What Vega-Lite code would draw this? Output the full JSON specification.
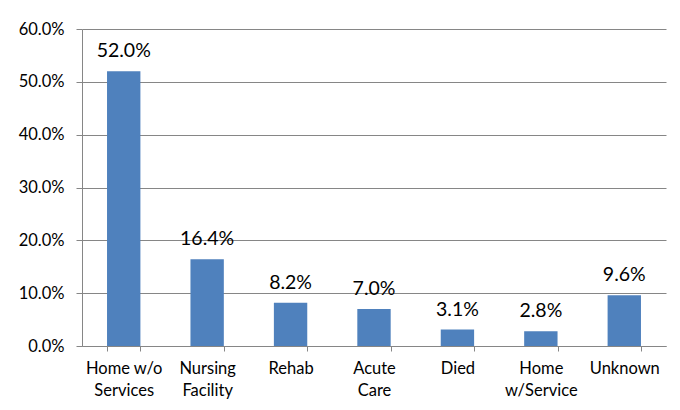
{
  "$schema": "https://vega.github.io/schema/vega-lite/v6.json",
  "width": 584,
  "height": 317,
  "autosize": {"type": "none"},
  "padding": {"left": 82, "top": 29, "right": 14, "bottom": 64},
  "background": "white",
  "data": {"values": [
    {"category": "Home w/o|Services", "value": 0.520},
    {"category": "Nursing|Facility", "value": 0.164},
    {"category": "Rehab", "value": 0.082},
    {"category": "Acute|Care", "value": 0.070},
    {"category": "Died", "value": 0.031},
    {"category": "Home|w/Service", "value": 0.028},
    {"category": "Unknown", "value": 0.096}
  ]},
  "config": {
    "view": {"stroke": null},
    "font": "Lato",
    "axis": {"labelFont": "Lato", "labelColor": "black", "domainColor": "#868686", "tickColor": "#868686", "gridColor": "#868686"}
  },
  "encoding": {
    "x": {
      "field": "category", "type": "nominal", "sort": null,
      "scale": {"paddingInner": 0.6, "paddingOuter": 0.3},
      "axis": {"title": null, "labelAngle": 0, "labelExpr": "split(datum.label, '|')", "labelFontSize": 16.5, "labelLineHeight": 22, "labelPadding": 9, "tickBand": "extent", "tickSize": 5, "labelBaseline": "top"}
    },
    "y": {
      "field": "value", "type": "quantitative",
      "scale": {"domain": [0, 0.6]},
      "axis": {"title": null, "format": ".1%", "values": [0, 0.1, 0.2, 0.3, 0.4, 0.5, 0.6], "labelFontSize": 16.5, "tickSize": 6, "labelPadding": 12, "grid": true}
    }
  },
  "layer": [
    {"mark": {"type": "bar", "color": "#4F81BD"}},
    {"mark": {"type": "text", "baseline": "alphabetic", "dy": -14, "fontSize": 19.5, "color": "black"},
     "encoding": {"text": {"field": "value", "type": "quantitative", "format": ".1%"}}}
  ]
}
